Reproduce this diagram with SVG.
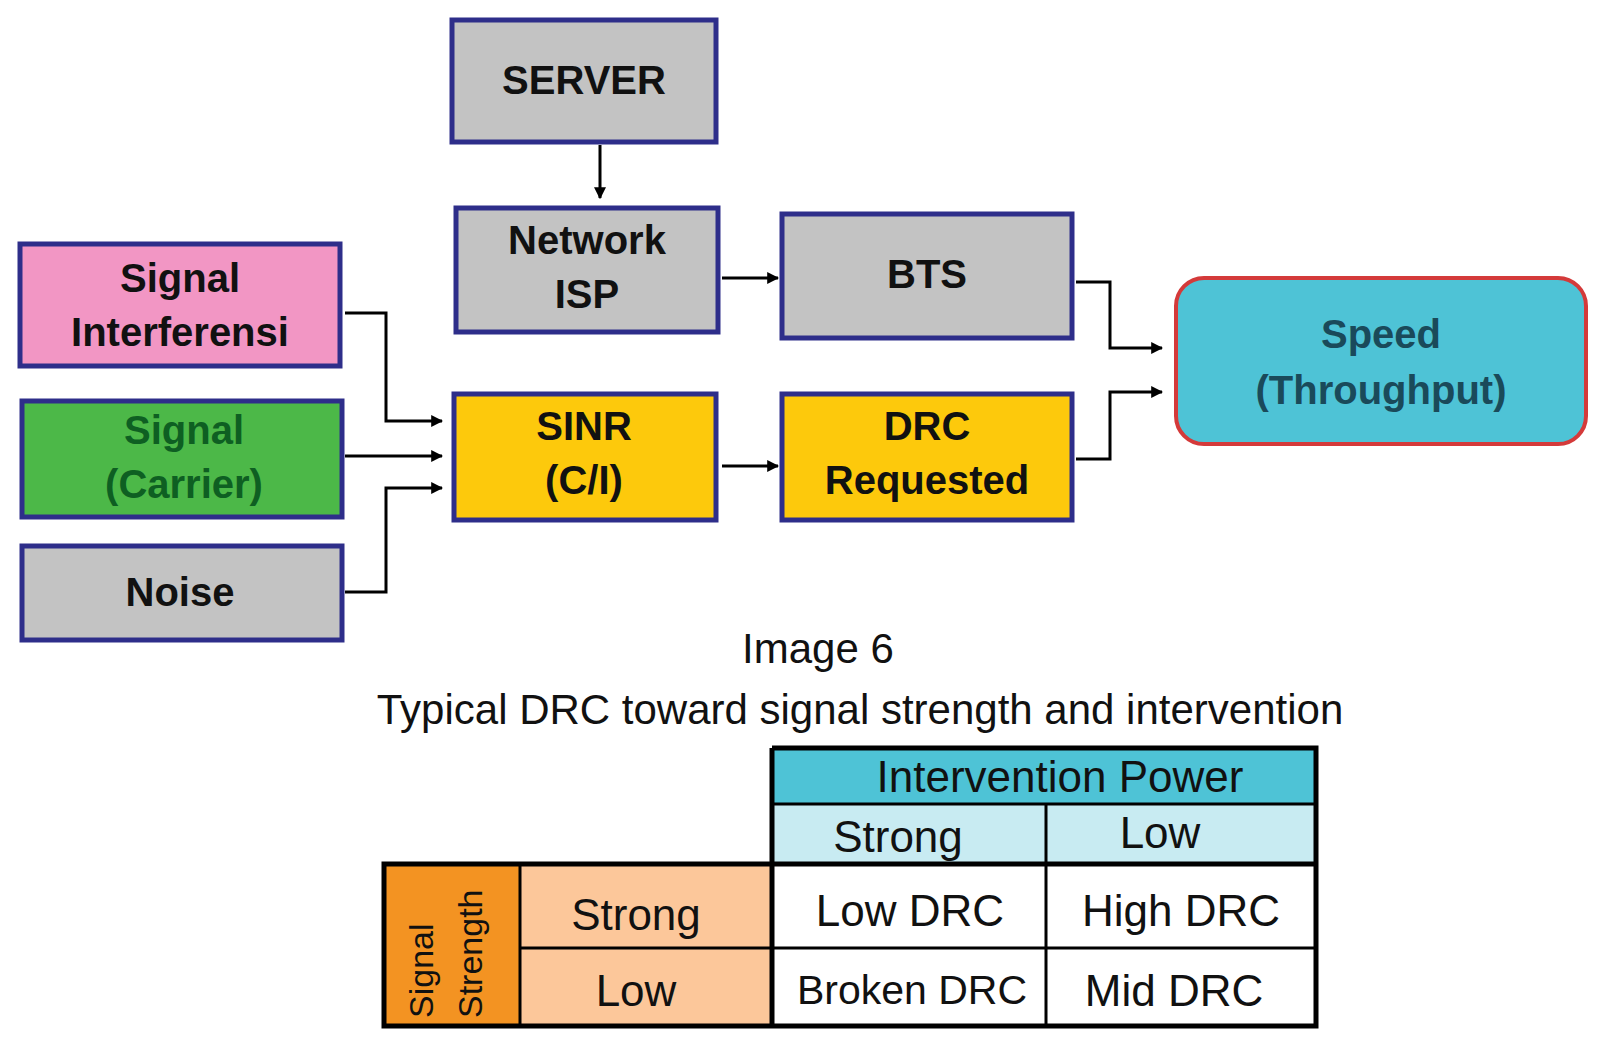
<svg xmlns="http://www.w3.org/2000/svg" width="1600" height="1038" viewBox="0 0 1600 1038">
<style>
.n{stroke:#2e2e8a;stroke-width:5}
.t{font-family:"Liberation Sans Narrow","Liberation Sans",Arial,sans-serif;font-weight:bold;font-size:40px;text-anchor:middle;fill:#111}
.c{fill:none;stroke:#000;stroke-width:3}
.tb{font-family:"Liberation Sans",Arial,sans-serif;font-size:44px;text-anchor:middle;fill:#111}
.cap{font-family:"Liberation Sans",Arial,sans-serif;font-size:42px;text-anchor:middle;fill:#111}
</style>
<defs><marker id="a" viewBox="0 0 10 10" refX="9" refY="5" markerWidth="4" markerHeight="4" orient="auto" markerUnits="strokeWidth"><path d="M0,0L10,5L0,10z" fill="#000"/></marker></defs>
<rect width="1600" height="1038" fill="#fff"/>
<g id="server"><rect class="n" x="452" y="20" width="264" height="122" fill="#c3c3c3"/><text class="t" x="584" y="94">SERVER</text></g>
<g id="isp"><rect class="n" x="456" y="208" width="262" height="124" fill="#c3c3c3"/><text class="t" x="587" y="254">Network</text><text class="t" x="587" y="308">ISP</text></g>
<g id="bts"><rect class="n" x="782" y="214" width="290" height="124" fill="#c3c3c3"/><text class="t" x="927" y="288">BTS</text></g>
<g id="interf"><rect class="n" x="20" y="244" width="320" height="122" fill="#f296c4"/><text class="t" x="180" y="292">Signal</text><text class="t" x="180" y="346">Interferensi</text></g>
<g id="carrier"><rect class="n" x="22" y="401" width="320" height="116" fill="#4cb848"/><text class="t" x="184" y="444" fill="#116611" style="fill:#0e5f22">Signal</text><text class="t" x="184" y="498" style="fill:#0e5f22">(Carrier)</text></g>
<g id="noise"><rect class="n" x="22" y="546" width="320" height="94" fill="#c3c3c3"/><text class="t" x="180" y="606">Noise</text></g>
<g id="sinr"><rect class="n" x="454" y="394" width="262" height="126" fill="#fdc90c"/><text class="t" x="584" y="440">SINR</text><text class="t" x="584" y="494">(C/I)</text></g>
<g id="drc"><rect class="n" x="782" y="394" width="290" height="126" fill="#fdc90c"/><text class="t" x="927" y="440">DRC</text><text class="t" x="927" y="494">Requested</text></g>
<g id="speed"><rect x="1176" y="278" width="410" height="166" rx="28" fill="#4ec3d6" stroke="#d43a3a" stroke-width="4"/><text class="t" x="1381" y="348" style="fill:#1a4a5a">Speed</text><text class="t" x="1381" y="404" style="fill:#1a4a5a">(Throughput)</text></g>
<g id="connectors">
<path class="c" d="M600,145V198" marker-end="url(#a)"/>
<path class="c" d="M722,278H778" marker-end="url(#a)"/>
<path class="c" d="M722,466H778" marker-end="url(#a)"/>
<path class="c" d="M345,313H386V421H442" marker-end="url(#a)"/>
<path class="c" d="M345,456H442" marker-end="url(#a)"/>
<path class="c" d="M345,592H386V488H442" marker-end="url(#a)"/>
<path class="c" d="M1076,282H1110V348H1162" marker-end="url(#a)"/>
<path class="c" d="M1076,459H1110V392H1162" marker-end="url(#a)"/>
</g>
<g id="caption"><text class="cap" x="818" y="663">Image 6</text><text class="cap" x="860" y="724">Typical DRC toward signal strength and intervention</text></g>
<g id="table">
<rect x="772" y="748" width="544" height="56" fill="#4ec3d6"/>
<rect x="772" y="804" width="544" height="60" fill="#c8ebf2"/>
<rect x="384" y="864" width="136" height="162" fill="#f39322"/>
<rect x="520" y="864" width="252" height="162" fill="#fcc79a"/>
<g fill="none" stroke="#000" stroke-width="5">
<path d="M772,748H1316V1026H384V864H1316M772,748V1026"/>
</g>
<g fill="none" stroke="#000" stroke-width="3">
<path d="M772,804H1316M520,864V1026M520,948H1316M1046,804V1026"/>
</g>
<text class="tb" x="1060" y="792">Intervention Power</text>
<text class="tb" x="898" y="852">Strong</text>
<text class="tb" x="1160" y="848">Low</text>
<text class="tb" x="636" y="930">Strong</text>
<text class="tb" x="636" y="1006">Low</text>
<text class="tb" x="910" y="926">Low DRC</text>
<text class="tb" x="1181" y="926">High DRC</text>
<text class="tb" x="912" y="1004" style="font-size:41px">Broken DRC</text>
<text class="tb" x="1174" y="1006">Mid DRC</text>
<text class="tb" transform="translate(446,1018) rotate(-90)" style="font-size:34px;text-anchor:start" x="0" y="-13">Signal</text>
<text class="tb" transform="translate(482,1018) rotate(-90)" style="font-size:34px;text-anchor:start" x="0" y="0">Strength</text>
</g>
</svg>
